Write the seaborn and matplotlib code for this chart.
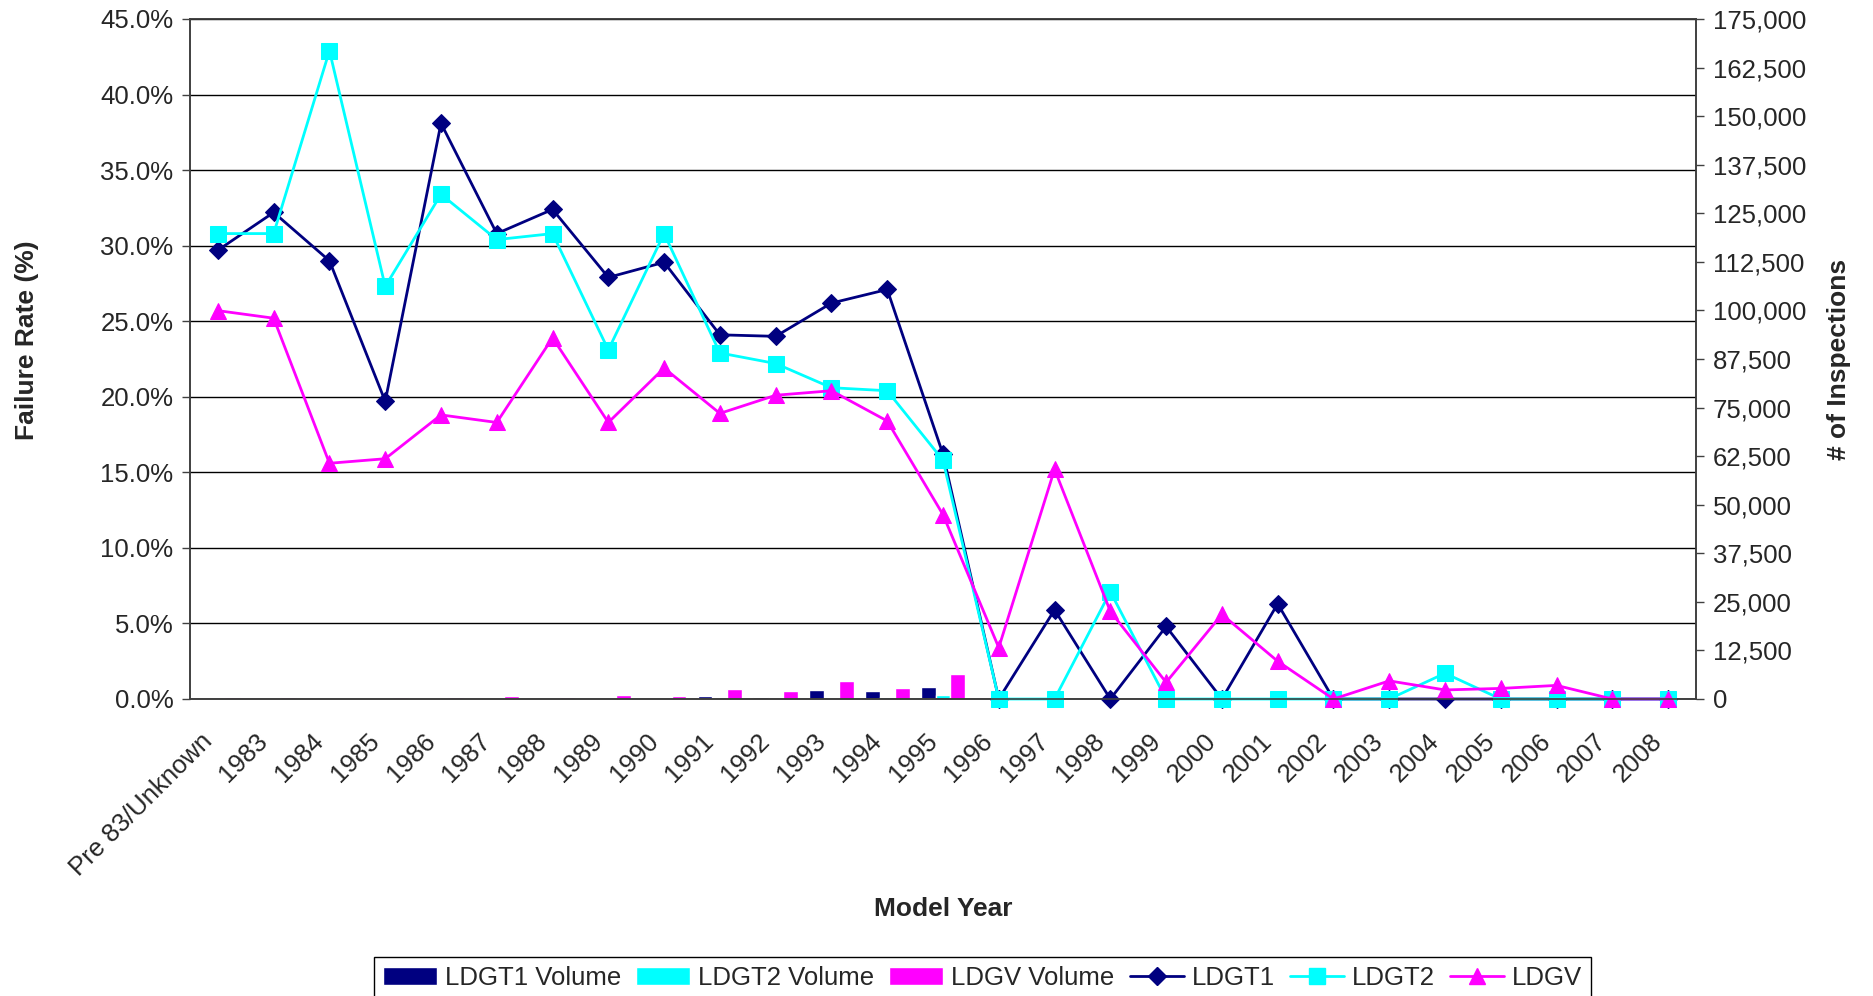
import numpy as np
import pandas as pd
import seaborn as sns
import matplotlib.pyplot as plt
import matplotlib.transforms as mtransforms
from matplotlib.patches import Patch
from matplotlib.lines import Line2D
from matplotlib.ticker import MultipleLocator, FuncFormatter

# -------------------------------
# DATA
# -------------------------------
model_years = ["Pre 83/Unknown", "1983", "1984", "1985", "1986", "1987", "1988",
               "1989", "1990", "1991", "1992", "1993", "1994", "1995", "1996",
               "1997", "1998", "1999", "2000", "2001", "2002", "2003", "2004",
               "2005", "2006", "2007", "2008"]

# failure rates (%)
ldgt1_rate = [29.7, 32.2, 29.0, 19.7, 38.1, 30.8, 32.4, 27.9, 28.9, 24.1, 24.0, 26.2, 27.1,
              16.2, 0.0, 5.9, 0.0, 4.8, 0.0, 6.3, 0.0, 0.0, 0.0, 0.0, 0.0, 0.0, 0.0]
ldgt2_rate = [30.8, 30.8, 42.9, 27.3, 33.4, 30.4, 30.8, 23.1, 30.8, 22.9, 22.2, 20.6, 20.4,
              15.8, 0.0, 0.0, 7.1, 0.0, 0.0, 0.0, 0.0, 0.0, 1.7, 0.0, 0.0, 0.0, 0.0]
ldgv_rate = [25.7, 25.2, 15.6, 15.9, 18.8, 18.3, 23.9, 18.3, 21.9, 18.9, 20.1, 20.4, 18.4,
             12.2, 3.4, 15.2, 5.8, 1.1, 5.6, 2.5, 0.0, 1.2, 0.6, 0.7, 0.9, 0.0, 0.0]

# number of inspections
ldgt1_vol = [0, 0, 0, 250, 250, 250, 250, 300, 300, 860, 600, 2230, 2060,
             3180, 0, 250, 150, 100, 100, 150, 250, 150, 300, 250, 150, 100, 50]
ldgt2_vol = [0, 0, 0, 0, 0, 150, 150, 200, 200, 250, 250, 300, 400,
             950, 0, 100, 100, 50, 50, 50, 100, 50, 150, 100, 100, 50, 50]
ldgv_vol = [400, 400, 350, 400, 400, 700, 400, 950, 860, 2500, 2060, 4550, 2830,
            6440, 250, 100, 150, 100, 100, 100, 150, 100, 200, 150, 100, 100, 50]

NAVY = "#000080"
CYAN = "#00FFFF"
MAGENTA = "#FF00FF"

# -------------------------------
# STYLE
# -------------------------------
sns.set_style("white")
plt.rcParams["font.family"] = ["Liberation Sans", "DejaVu Sans"]
FS = 18.5

vol_df = pd.DataFrame({
    "year": model_years * 3,
    "series": ["LDGT1 Volume"] * len(model_years) + ["LDGT2 Volume"] * len(model_years)
              + ["LDGV Volume"] * len(model_years),
    "volume": ldgt1_vol + ldgt2_vol + ldgv_vol,
})

fig = plt.figure(figsize=(18.73, 9.96), dpi=100)
ax = fig.add_axes([190 / 1873, 1 - 699 / 996, (1696 - 190) / 1873, (699 - 19) / 996])
ax2 = ax.twinx()

# bars -> secondary axis
sns.barplot(data=vol_df, x="year", y="volume", hue="series", order=model_years,
            palette=[NAVY, CYAN, MAGENTA], width=0.8, saturation=1, errorbar=None,
            legend=False, ax=ax2)

# lines -> primary axis
pos = np.arange(len(model_years))
for rate, col, mk, ms in [(ldgt1_rate, NAVY, "D", 9),
                          (ldgt2_rate, CYAN, "s", 11),
                          (ldgv_rate, MAGENTA, "^", 12)]:
    sns.lineplot(x=pos, y=rate, color=col, marker=mk, markersize=ms, linewidth=2,
                 markeredgecolor=col, markerfacecolor=col, clip_on=False, ax=ax)

ax.set_zorder(ax2.get_zorder() + 1)
ax.patch.set_visible(False)

# y axes
ax.set_ylim(0, 45)
ax.yaxis.set_major_locator(MultipleLocator(5))
ax.yaxis.set_major_formatter(FuncFormatter(lambda v, p: f"{v:.1f}%"))
ax.grid(axis="y", color="black", linewidth=1)
ax.grid(axis="x", visible=False)
ax2.set_ylim(0, 175000)
ax2.yaxis.set_major_locator(MultipleLocator(12500))
ax2.yaxis.set_major_formatter(FuncFormatter(lambda v, p: f"{v:,.0f}"))
ax2.grid(False)

# x axis: labels at centres, ticks at boundaries
ax.set_xlim(-0.5, len(model_years) - 0.5)
ax.set_xticks(pos)
ax.set_xticklabels(model_years, rotation=45, ha="right", va="center", rotation_mode="anchor")
ax.set_xticks(np.arange(-0.5, len(model_years), 1), minor=True)
ax.tick_params(axis="x", which="major", length=0, pad=28, labelsize=FS)
ax.tick_params(axis="x", which="minor", length=6, width=1, color="#404040", direction="out")
ax.tick_params(axis="y", which="major", length=6, width=1, color="#404040",
               direction="out", left=True, labelsize=FS, pad=6)
ax2.tick_params(axis="y", which="major", length=6, width=1, color="#404040",
                direction="out", right=True, labelsize=FS, pad=6)
shift = mtransforms.ScaledTranslation(-7 / 72, 0, fig.dpi_scale_trans)
for lab in ax.get_xticklabels():
    lab.set_transform(lab.get_transform() + shift)

for a in (ax, ax2):
    for s in a.spines.values():
        s.set_color("#404040")
        s.set_linewidth(1.2)

ax.set_xlabel("Model Year", fontsize=19, fontweight="bold")
ax.xaxis.set_label_coords(0.5, -0.291)
ax.set_ylabel("Failure Rate (%)", fontsize=19, fontweight="bold")
ax.yaxis.set_label_coords(-0.100, 0.528)
ax2.set_ylabel("# of Inspections", fontsize=19, fontweight="bold", rotation=90)
ax2.yaxis.set_label_coords(1.087, 0.5)

handles = [
    Patch(facecolor=NAVY, label="LDGT1 Volume"),
    Patch(facecolor=CYAN, label="LDGT2 Volume"),
    Patch(facecolor=MAGENTA, label="LDGV Volume"),
    Line2D([], [], color=NAVY, marker="D", markersize=9, linewidth=2, label="LDGT1"),
    Line2D([], [], color=CYAN, marker="s", markersize=11, linewidth=2, label="LDGT2"),
    Line2D([], [], color=MAGENTA, marker="^", markersize=12, linewidth=2, label="LDGV"),
]
fig.legend(handles=handles, ncol=6, loc="upper center", bbox_to_anchor=(0.5245, 1 - 957 / 996),
           frameon=True, fancybox=False, edgecolor="black", framealpha=1, fontsize=FS,
           handlelength=2.1, handleheight=0.7, handletextpad=0.3, columnspacing=0.6,
           borderpad=0.35, borderaxespad=0)

plt.savefig("out.png", dpi=100)
plt.close()
